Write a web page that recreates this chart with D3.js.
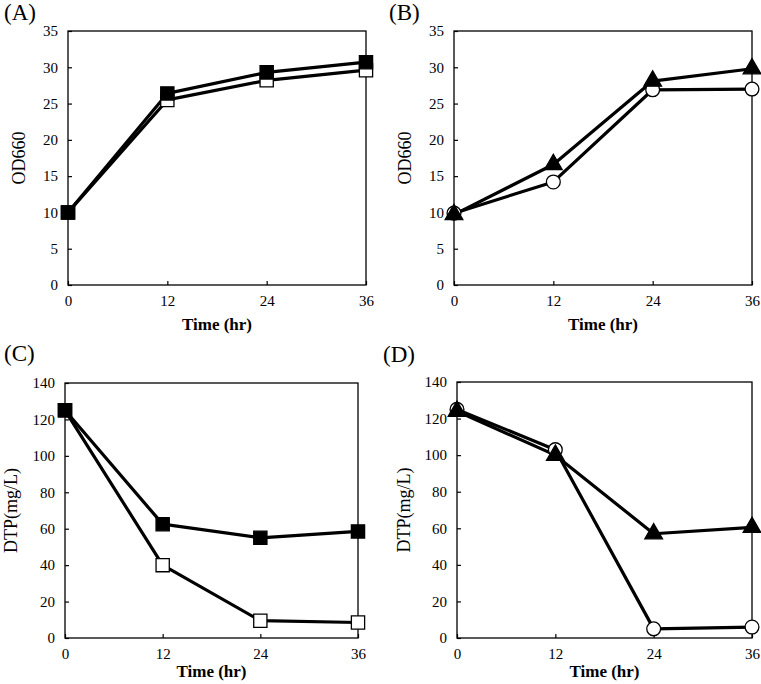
<!DOCTYPE html>
<html>
<head>
<meta charset="utf-8">
<script src="https://cdn.jsdelivr.net/npm/d3@7"></script>
<style>
  body { margin: 0; background: #fff; }
  svg { display: block; }
  svg text { font-family: "Liberation Serif", "DejaVu Serif", serif; }
</style>
</head>
<body>
<div id="chart"></div>
<script>
//--------------------------- Data

var times = [0, 12, 24, 36];
var xTicks = [0, 12, 24, 36];

var odTicks = [0, 5, 10, 15, 20, 25, 30, 35];
var dtpTicks = [0, 20, 40, 60, 80, 100, 120, 140];

// panel A
var aFilledSquare = [10, 26.4, 29.3, 30.7];
var aOpenSquare = [10, 25.5, 28.2, 29.6];
// panel B
var bTriangle = [9.7, 16.6, 28.1, 29.8];
var bOpenCircle = [9.9, 14.2, 26.9, 27.0];
// panel C
var cFilledSquare = [125, 62.5, 55, 58.5];
var cOpenSquare = [125, 40, 9.5, 8.5];
// panel D
var dTriangle = [124, 100, 57, 60.5];
var dOpenCircle = [125, 103, 5, 6];

//--------------------------- SVG definition

var width = 761;
var height = 684;

var svg = d3.select("#chart")
    .append("svg")
    .attr("width", width)
    .attr("height", height);

var fontFamily = "Liberation Serif, DejaVu Serif, serif";

//--------------------------- Panel definitions

var panels = [
    { label: "(A)", lx: 4, ly: 20, box: [68, 31, 366, 285], yMax: 35, yTicks: odTicks, yTitle: "OD660", ytx: 19, tty: 330,
      series: [ { values: aOpenSquare, shape: "square", fill: "white" },
                { values: aFilledSquare, shape: "square", fill: "black" } ] },
    { label: "(B)", lx: 389, ly: 20, box: [454, 31, 752, 285], yMax: 35, yTicks: odTicks, yTitle: "OD660", ytx: 405, tty: 330,
      series: [ { values: bOpenCircle, shape: "circle", fill: "white" },
                { values: bTriangle, shape: "triangle", fill: "black" } ] },
    { label: "(C)", lx: 4, ly: 361, box: [65, 383, 358, 638], yMax: 140, yTicks: dtpTicks, yTitle: "DTP(mg/L)", ytx: 11, tty: 677,
      series: [ { values: cOpenSquare, shape: "square", fill: "white" },
                { values: cFilledSquare, shape: "square", fill: "black" } ] },
    { label: "(D)", lx: 383, ly: 362, box: [457, 382, 752, 638], yMax: 140, yTicks: dtpTicks, yTitle: "DTP(mg/L)", ytx: 404, tty: 677,
      series: [ { values: dOpenCircle, shape: "circle", fill: "white" },
                { values: dTriangle, shape: "triangle", fill: "black" } ] }
];

//--------------------------- Draw each panel

panels.forEach(function (p) {
    var x0 = p.box[0], y0 = p.box[1], x1 = p.box[2], y1 = p.box[3];

    var x = d3.scaleLinear().domain([0, 36]).range([x0, x1]);
    var y = d3.scaleLinear().domain([0, p.yMax]).range([y1, y0]);

    var g = svg.append("g");

    // frame
    g.append("rect")
        .attr("x", x0)
        .attr("y", y0)
        .attr("width", x1 - x0)
        .attr("height", y1 - y0)
        .attr("fill", "none")
        .attr("stroke", "black")
        .attr("stroke-width", 1.3);

    // y axis (ticks inward)
    var yAxis = g.append("g")
        .attr("transform", "translate(" + x0 + ",0)")
        .call(d3.axisLeft(y).tickValues(p.yTicks).tickSize(-4).tickPadding(10));
    yAxis.select(".domain").remove();

    // x axis (ticks inward)
    var xAxis = g.append("g")
        .attr("transform", "translate(0," + y1 + ")")
        .call(d3.axisBottom(x).tickValues(xTicks).tickSize(-4).tickPadding(10));
    xAxis.select(".domain").remove();

    g.selectAll(".tick text")
        .style("font-family", fontFamily)
        .style("font-size", "15px")
        .attr("fill", "black");
    g.selectAll(".tick line")
        .attr("stroke", "black")
        .attr("stroke-width", 1.2);

    // axis titles
    g.append("text")
        .attr("x", (x0 + x1) / 2)
        .attr("y", p.tty)
        .attr("text-anchor", "middle")
        .style("font-family", fontFamily)
        .style("font-size", "17px")
        .style("font-weight", "bold")
        .text("Time (hr)");

    g.append("text")
        .attr("transform", "translate(" + p.ytx + "," + ((y0 + y1) / 2) + ") rotate(-90)")
        .attr("text-anchor", "middle")
        .attr("dy", "0.35em")
        .style("font-family", fontFamily)
        .style("font-size", "18px")
        .text(p.yTitle);

    // panel label
    g.append("text")
        .attr("x", p.lx)
        .attr("y", p.ly)
        .style("font-family", fontFamily)
        .style("font-size", "23px")
        .text(p.label);

    // lines
    var line = d3.line()
        .x(function (d, i) { return x(times[i]); })
        .y(function (d) { return y(d); });

    p.series.forEach(function (s) {
        g.append("path")
            .datum(s.values)
            .attr("d", line)
            .attr("fill", "none")
            .attr("stroke", "black")
            .attr("stroke-width", 3.2)
            .attr("stroke-linejoin", "round");
    });

    // markers
    p.series.forEach(function (s) {
        var sym = s.shape == "square" ? d3.symbolSquare
                : s.shape == "triangle" ? d3.symbolTriangle : d3.symbolCircle;
        var size = s.shape == "square" ? 175 : s.shape == "triangle" ? 135 : 150;
        g.selectAll(null).data(s.values).enter()
            .append("path")
            .attr("transform", function (d, i) { return "translate(" + x(times[i]) + "," + y(d) + ")"; })
            .attr("d", d3.symbol().type(sym).size(size))
            .attr("fill", s.fill)
            .attr("stroke", "black")
            .attr("stroke-width", 1.3);
    });
});
</script>
</body>
</html>
